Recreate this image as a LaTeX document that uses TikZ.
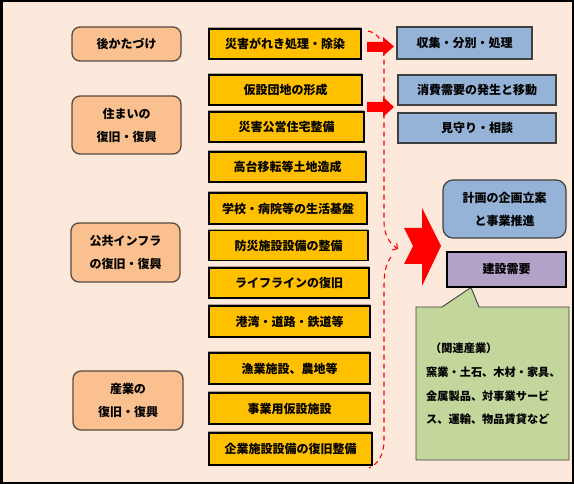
\documentclass[tikz,border=0pt]{standalone}
\usepackage{fontspec}
\setmainfont{Noto Sans CJK JP}
\usetikzlibrary{arrows.meta}
\definecolor{bg}{HTML}{FCE9DB}
\definecolor{catfill}{HTML}{FAC090}
\definecolor{catline}{HTML}{5A4A40}
\definecolor{actfill}{HTML}{FFC000}
\definecolor{efffill}{HTML}{95B3D7}
\definecolor{effline}{HTML}{404040}
\definecolor{cnsfill}{HTML}{B3A2C7}
\definecolor{relfill}{HTML}{C3D69B}
\definecolor{arrred}{HTML}{FF0000}
\definecolor{shadowc}{HTML}{B0A090}
\begin{document}
\begin{tikzpicture}[x=1pt,y=-1pt,
  txt/.style={font=\fontsize{12}{23}\selectfont\bfseries},
  cat/.style={txt, draw=catline, line width=1.3pt, fill=catfill, rounded corners=8pt,
    align=center, inner sep=0pt, minimum width=109pt, minimum height=58pt},
  act/.style={txt, draw=black, line width=1.3pt, fill=actfill, inner sep=0pt,
    minimum height=30pt,
    preaction={draw=shadowc, line width=1.3pt, transform canvas={shift={(-0.8,-1.3)}}}},
  eff/.style={txt, draw=effline, line width=1.2pt, fill=efffill, inner sep=0pt,
    minimum height=30pt, align=center},
  reltxt/.style={font=\fontsize{11.2}{24}\selectfont\bfseries, anchor=west, inner sep=0pt},
  blockarrow/.style={fill=arrred, draw=none},
  flow/.style={draw=arrred, line width=1.1pt, dash pattern=on 5pt off 4pt}
]
\useasboundingbox (0,0) rectangle (574,484);
\fill[bg] (0,0) rectangle (574,484);
\draw[line width=2.5pt] (1.25,1.25) rectangle (572.75,482.75);

% categories
\node[cat, minimum height=34pt] (c1) at (126.5,44) {後かたづけ};
\node[cat] (c2) at (126.5,125) {住まいの\\復旧・復興};
\node[cat, minimum height=59pt] (c3) at (125.5,252.5) {公共インフラ\\の復旧・復興};
\node[cat, minimum width=110pt, minimum height=59pt] (c4) at (128,400.5) {産業の\\復旧・復興};

% activities
\node[act, minimum width=152pt] (a1) at (285,44) {災害がれき処理・除染};
\node[act, minimum width=153pt] (a2) at (285.5,90) {仮設団地の形成};
\node[act, minimum width=155pt] (a3) at (286.5,127) {災害公営住宅整備};
\node[act, minimum width=157pt] (a4) at (287.5,167) {高台移転等土地造成};
\node[act, minimum width=158pt, minimum height=31pt] (a5) at (288,208.5) {学校・病院等の生活基盤};
\node[act, minimum width=159pt] (a6) at (288.5,245.5) {防災施設設備の整備};
\node[act, minimum width=160pt] (a7) at (289,283) {ライフラインの復旧};
\node[act, minimum width=161pt, minimum height=31pt] (a8) at (289.5,321.5) {港湾・道路・鉄道等};
\node[act, minimum width=161pt, minimum height=31pt] (a9) at (289.5,368.5) {漁業施設、農地等};
\node[act, minimum width=161pt, minimum height=31pt] (a10) at (289.5,408.5) {事業用仮設施設};
\node[act, minimum width=163pt, minimum height=32pt] (a11) at (290.5,449) {企業施設設備の復旧整備};

% effects
\node[eff, minimum width=135pt, minimum height=32pt] (e1) at (464.5,43) {収集・分別・処理};
\node[eff, minimum width=158pt] (e2) at (477,90) {消費需要の発生と移動};
\node[eff, minimum width=158pt] (e3) at (477,128) {見守り・相談};
\node[eff, minimum width=123pt, minimum height=58pt, rounded corners=10pt,
  font=\fontsize{12}{23}\selectfont\bfseries] (e4) at (504.5,209) {計画の企画立案\\と事業推進};

% related industries callout
\draw[fill=relfill, draw=effline, line width=0.9pt]
  (416,307) -- (442,307) -- (471,287.5) -- (479,307) -- (569,307) -- (569,460) -- (416,460) -- cycle;
\node[eff, fill=cnsfill, draw=black, line width=1.3pt, minimum width=119pt, minimum height=35pt] (e5) at (506.5,269.5) {建設需要};
\node[reltxt] (g1) at (430,348) {（関連産業）};
\node[reltxt] (g2) at (426,372) {窯業・土石、木材・家具、};
\node[reltxt] (g3) at (426,396) {金属製品、対事業サービ};
\node[reltxt] (g4) at (426,419) {ス、運輸、物品賃貸など};

% dashed flow
\coordinate (f0) at (368,31);
\coordinate (f1) at (398,249);
\coordinate (f2) at (391,257);
\coordinate (f3) at (369,468);
\draw[flow, -{Straight Barb[length=3.5pt,width=8pt]}]
  (f0) .. controls (378,33) and (384,42) .. (384,56) -- (384,222)
  .. controls (384,234) and (389,243) .. (f1);
\draw[flow] (f2) .. controls (386,264) and (384,272) .. (384,286) -- (384,440)
  .. controls (384,455) and (378,464) .. (f3);

% block arrows
\fill[blockarrow] (367,42) -- (383,42) -- (383,37) -- (394,46.5) -- (383,56) -- (383,52) -- (367,52) -- cycle;
\fill[blockarrow] (367,102) -- (383,102) -- (383,97) -- (394,107) -- (383,117) -- (383,112) -- (367,112) -- cycle;
\fill[blockarrow] (404,228) -- (422,228) -- (422,208) -- (441,246) -- (422,286) -- (422,264) -- (404,264) -- (413,246) -- cycle;
\end{tikzpicture}
\end{document}
